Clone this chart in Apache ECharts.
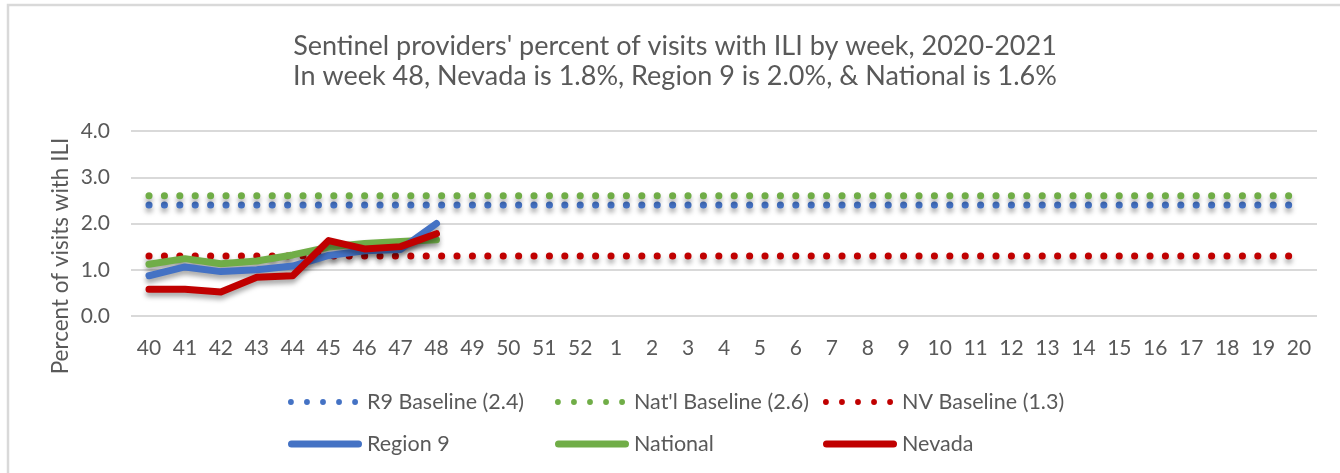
<!DOCTYPE html>
<html>
<head>
<meta charset="utf-8">
<script src="https://cdn.jsdelivr.net/npm/echarts@6/dist/echarts.min.js"></script>
<style>html,body{margin:0;padding:0;background:#fff;}#c{width:1340px;height:473px;}</style>
</head>
<body>
<div id="c"></div>
<script>
const weeks = ['40','41','42','43','44','45','46','47','48','49','50','51','52','1','2','3','4','5','6','7','8','9','10','11','12','13','14','15','16','17','18','19','20'];
const yTicks = [0, 1, 2, 3, 4];
const region9 = [0.87, 1.06, 0.96, 1.0, 1.08, 1.31, 1.41, 1.44, 2.0];
const national = [1.12, 1.24, 1.13, 1.19, 1.32, 1.49, 1.57, 1.61, 1.65];
const nevada = [0.58, 0.58, 0.52, 0.84, 0.87, 1.63, 1.45, 1.5, 1.78];
const r9Baseline = 2.4;
const natBaseline = 2.6;
const nvBaseline = 1.3;
const titleLines = ["Sentinel providers' percent of visits with ILI by week, 2020-2021", "In week 48, Nevada is 1.8%, Region 9 is 2.0%, & National is 1.6%"];

const FONT = 'Lato';
const TXT = '#595959';
const BLUE = '#4472C4', GREEN = '#70AD47', RED = '#C00000';
const shadow = {shadowColor: 'rgba(0,0,0,0.35)', shadowBlur: 5, shadowOffsetY: 4};

// legend icon shapes
function dotsPath() {
  let p = '';
  const cs = [3, 19.5, 36, 52.5, 69];
  cs.forEach(c => { p += 'M' + (c - 3) + ',3a3,3 0 1,0 6,0a3,3 0 1,0 -6,0Z'; });
  return 'path://' + p;
}
const DOTS = dotsPath();
const BAR = 'path://M3.5,0L70.5,0A3.5,3.5 0 0,1 70.5,7L3.5,7A3.5,3.5 0 0,1 3.5,0Z';

function constLine(v) { return weeks.map(() => v); }
function baseline(name, v, color) {
  return {
    name: name, type: 'line', data: constLine(v), symbol: 'none', silent: true,
    lineStyle: Object.assign({color: color, width: 7, type: [0.1, 15.3], cap: 'round'}, shadow),
    itemStyle: {color: color}, z: 2
  };
}
function dataLine(name, vals, color, z) {
  return {
    name: name, type: 'line', data: vals, symbol: 'none', silent: true,
    lineStyle: Object.assign({color: color, width: 7, cap: 'round', join: 'round'}, shadow),
    itemStyle: {color: color}, z: z
  };
}

const legendItem = (name, left, top, icon, w, h, padL) => ({
  data: [{name: name, icon: icon}], left: left, top: top, itemWidth: w, itemHeight: h, itemGap: 0,
  textStyle: {color: TXT, fontFamily: FONT, fontSize: 21.5, padding: [0, 0, 0, padL]}, selectedMode: false
});

const chart = echarts.init(document.getElementById('c'), null, {renderer: 'canvas'});
chart.setOption({
  animation: false,
  backgroundColor: '#ffffff',
  grid: {left: 131, right: 23, top: 131, bottom: 157, containLabel: false},
  xAxis: {
    type: 'category', data: weeks, boundaryGap: true,
    axisLine: {show: false}, axisTick: {show: false},
    axisLabel: {color: TXT, fontFamily: FONT, fontSize: 21, margin: 22, interval: 0}
  },
  yAxis: {
    type: 'value', min: yTicks[0], max: yTicks[yTicks.length - 1], interval: 1,
    axisLine: {show: false}, axisTick: {show: false},
    axisLabel: {color: TXT, fontFamily: FONT, fontSize: 21, margin: 21, formatter: v => v.toFixed(1)},
    splitLine: {lineStyle: {color: '#d9d9d9', width: 2}}
  },
  legend: [
    legendItem('R9 Baseline (2.4)', 283, 386, DOTS, 70, 6, 4),
    legendItem("Nat'l Baseline (2.6)", 550, 386, DOTS, 70, 6, 4),
    legendItem('NV Baseline (1.3)', 818, 386, DOTS, 70, 6, 4),
    legendItem('Region 9', 283, 428, BAR, 74, 7, 0),
    legendItem('National', 550, 428, BAR, 74, 7, 0),
    legendItem('Nevada', 818, 428, BAR, 74, 7, 0)
  ],
  graphic: [
    {type: 'rect', shape: {x: 8, y: 5, width: 1400, height: 500}, style: {fill: 'none', stroke: '#d9d9d9', lineWidth: 2.5}, silent: true},
    {type: 'text', x: 675, y: 46,
     style: {text: titleLines[0], fill: TXT, font: '27px ' + FONT, textAlign: 'center', textVerticalAlign: 'middle'}},
    {type: 'text', x: 675, y: 76,
     style: {text: titleLines[1], fill: TXT, font: '27px ' + FONT, textAlign: 'center', textVerticalAlign: 'middle'}},
    {type: 'text', x: 61, y: 256, rotation: Math.PI / 2,
     style: {text: 'Percent of visits with ILI', fill: TXT, font: '22.5px ' + FONT, textAlign: 'center', textVerticalAlign: 'middle'}}
  ],
  series: [
    baseline('R9 Baseline (2.4)', r9Baseline, BLUE),
    baseline("Nat'l Baseline (2.6)", natBaseline, GREEN),
    baseline('NV Baseline (1.3)', nvBaseline, RED),
    dataLine('National', national, GREEN, 3),
    dataLine('Region 9', region9, BLUE, 4),
    dataLine('Nevada', nevada, RED, 5)
  ]
});
</script>
</body>
</html>
